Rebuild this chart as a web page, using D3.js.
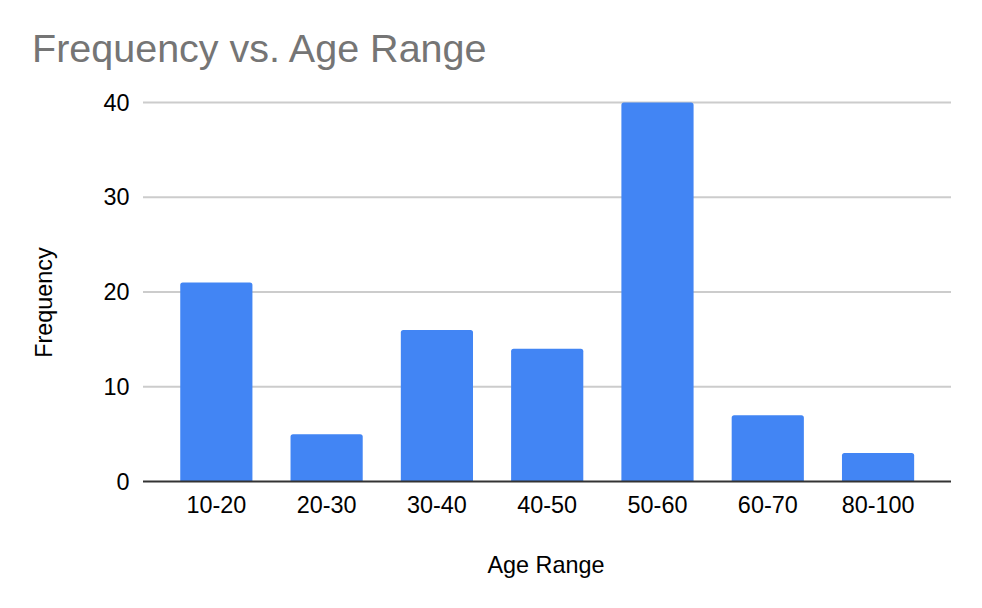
<!DOCTYPE html>
<html>
<head>
<meta charset="utf-8">
<script src="https://cdn.jsdelivr.net/npm/d3@7"></script>
<style>
  html, body { margin: 0; padding: 0; background: #fff; }
  svg { display: block; font-family: "Liberation Sans", Arial, sans-serif; }
</style>
</head>
<body>
<svg id="chart" width="982" height="608"></svg>
<script>
const categories = ["10-20", "20-30", "30-40", "40-50", "50-60", "60-70", "80-100"];
const frequency = [21, 5, 16, 14, 40, 7, 3];
const yTicks = [0, 10, 20, 30, 40];
const titleText = "Frequency vs. Age Range";
const xTitle = "Age Range";
const yTitle = "Frequency";

const svg = d3.select("#chart");
const plotLeft = 143, plotRight = 951;
const FONT = "'Liberation Sans', Arial, sans-serif";

const x = d3.scaleBand()
  .domain(categories)
  .range([161.2, 933.2])
  .paddingInner(0.3455)
  .paddingOuter(0.1727);

const y = d3.scaleLinear().domain([0, 40]).range([481.5, 102.5]);

// title
svg.append("text")
  .attr("x", 32).attr("y", 62)
  .attr("fill", "#757575")
  .attr("font-size", "39.5px")
  .attr("font-family", FONT)
  .text(titleText);

// gridlines
svg.append("g").selectAll("line")
  .data(yTicks.filter(d => d !== 0))
  .join("line")
  .attr("x1", plotLeft).attr("x2", plotRight)
  .attr("y1", d => y(d)).attr("y2", d => y(d))
  .attr("stroke", "#cccccc").attr("stroke-width", 2);

// y axis labels
const yAxis = d3.axisLeft(y).tickValues(yTicks).tickSize(0).tickPadding(0);
const gy = svg.append("g").attr("transform", `translate(129.5,0)`).call(yAxis);
gy.attr("font-family", FONT);
gy.select(".domain").remove();
gy.selectAll("text")
  .attr("fill", "#000")
  .attr("font-size", "23.4px");

// bars with rounded top corners
const r = 2.5;
svg.append("g").selectAll("path")
  .data(categories.map((c, i) => ({c, v: frequency[i]})))
  .join("path")
  .attr("fill", "#4285f4")
  .attr("d", d => {
    const x0 = x(d.c), x1 = x0 + x.bandwidth();
    const yt = y(d.v), yb = y(0);
    return `M${x0},${yb} L${x0},${yt + r} Q${x0},${yt} ${x0 + r},${yt} L${x1 - r},${yt} Q${x1},${yt} ${x1},${yt + r} L${x1},${yb} Z`;
  });

// baseline
svg.append("line")
  .attr("x1", plotLeft).attr("x2", plotRight)
  .attr("y1", y(0)).attr("y2", y(0))
  .attr("stroke", "#333333").attr("stroke-width", 2);

// x axis labels
const xAxis = d3.axisBottom(x).tickSize(0).tickPadding(0);
const gx = svg.append("g").attr("transform", `translate(0,${y(0)})`).call(xAxis);
gx.attr("font-family", FONT);
gx.select(".domain").remove();
gx.selectAll("text")
  .attr("fill", "#000")
  .attr("font-size", "23.4px")
  .attr("dy", null)
  .attr("y", 31.2);

// axis titles
svg.append("text")
  .attr("x", 546).attr("y", 573.3)
  .attr("text-anchor", "middle")
  .attr("font-size", "23.4px")
  .attr("font-family", FONT)
  .attr("fill", "#000")
  .text(xTitle);

svg.append("text")
  .attr("transform", "translate(51.5,302.5) rotate(-90)")
  .attr("text-anchor", "middle")
  .attr("font-size", "23.4px")
  .attr("font-family", FONT)
  .attr("fill", "#000")
  .text(yTitle);
</script>
</body>
</html>
